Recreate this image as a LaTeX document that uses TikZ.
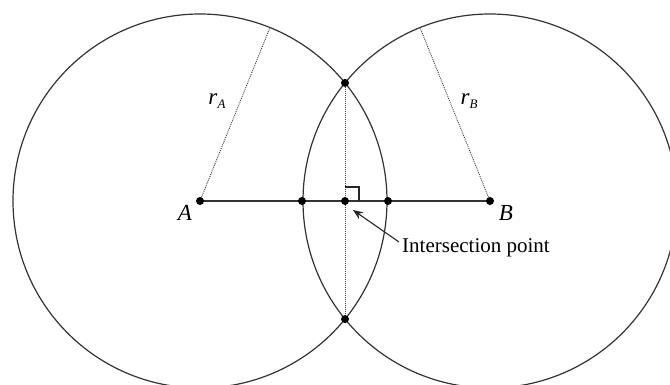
\documentclass[tikz,border=0pt]{standalone}
\usepackage{fontspec}
\setmainfont{Liberation Serif}
\usetikzlibrary{arrows.meta,calc}
\tikzset{
  circ/.style={draw=black!80, line width=1.2pt},
  seg/.style={draw=black!80, line width=1.2pt},
  dotline/.style={draw=black!75, line width=0.9pt, dash pattern=on 1pt off 1pt},
  pt/.style={circle, fill=black, inner sep=0pt, minimum size=8pt},
  lbl/.style={font=\fontsize{21}{24}\selectfont},
  rlbl/.style={font=\fontsize{23}{26}\selectfont},
}
\begin{document}
\begin{tikzpicture}[x=1pt,y=-1pt]
\useasboundingbox (0,0) rectangle (670,385);
\clip (0,0) rectangle (670,385);
\coordinate (A) at (200,201);
\coordinate (B) at (490,201);
\draw[circ] (A) circle[radius=187];
\draw[circ] (B) circle[radius=187];
\coordinate (RA) at (270,27.6);
\coordinate (RB) at (420,27.6);
\draw[seg] (A) -- (B);
\draw[dotline] (A) -- (RA);
\draw[dotline] (B) -- (RB);
\coordinate (T) at (345,82.9);
\coordinate (D) at (345,319.1);
\draw[dotline] (T) -- (D);
\coordinate (P2) at (345,201);
\draw[draw=black!85, line width=1.1pt] ($(P2)+(0,-14)$) -- ++(14,0) -- ++(0,14);
\node[pt] (nA) at (A) {};
\node[pt] (nB) at (B) {};
\node[pt] (n1) at (302,201) {};
\node[pt] (n2) at (P2) {};
\node[pt] (n3) at (388,201) {};
\node[pt] (nT) at (T) {};
\node[pt] (nD) at (D) {};
\node[rlbl] (lA) at (185,213) {\textit{A}};
\node[rlbl] (lB) at (506,213) {\textit{B}};
\node[rlbl] (lrA) at (217,101) {\textit{r}\raisebox{-0.45ex}{\fontsize{13}{14}\selectfont\textit{A}}};
\node[rlbl] (lrB) at (469,101) {\textit{r}\raisebox{-0.45ex}{\fontsize{13}{14}\selectfont\textit{B}}};
\node[lbl, anchor=west, inner sep=0pt] (ip) at (402,248) {Intersection point};
\coordinate (tip) at (353,210);
\draw[draw=black!85, line width=1.1pt, -{Stealth[length=10pt,width=8pt]}] (ip.west) ++(-3,-6) -- (tip);
\end{tikzpicture}
\end{document}
